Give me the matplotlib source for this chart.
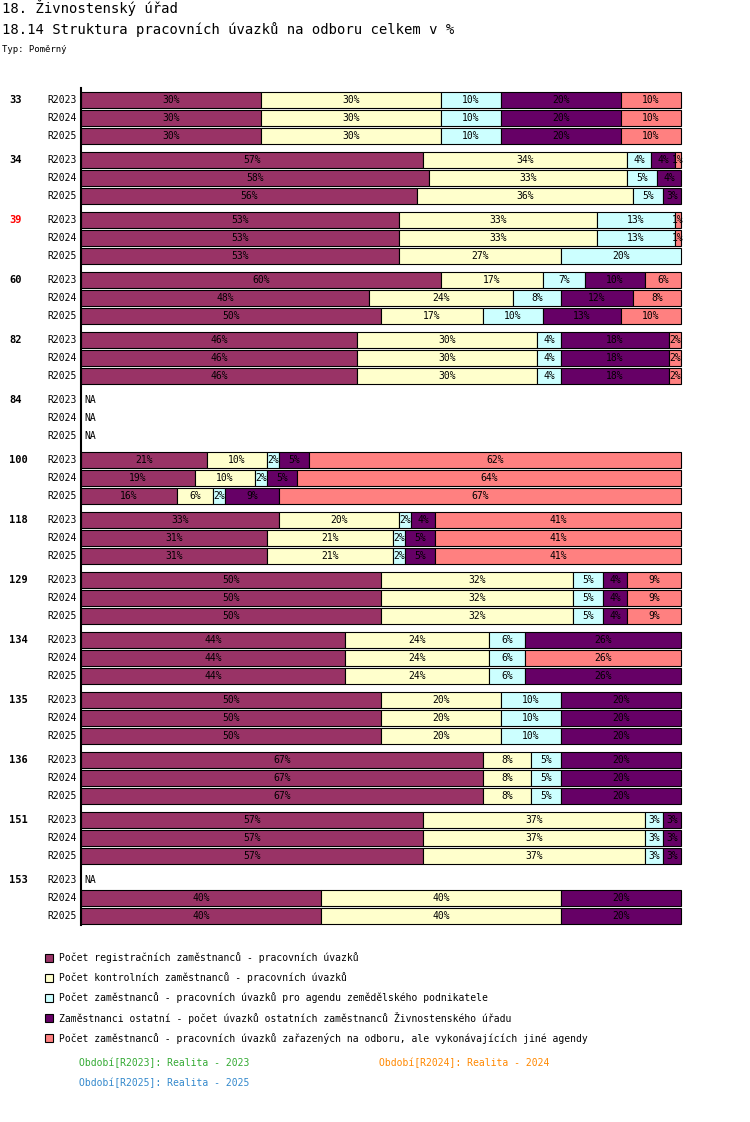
import matplotlib
matplotlib.use('Agg')
import matplotlib.pyplot as plt
import numpy as np

plt.rcParams['font.family'] = ['DejaVu Sans Mono']

groups = ['33', '34', '39', '60', '82', '84', '100', '118', '129', '134', '135', '136', '151', '153']
periods = ['R2023', 'R2024', 'R2025']
# per group, per period: [registrační, kontrolní, zeměd., ostatní, jiné agendy]; None = NA
values = [
    [[30, 30, 10, 20, 10], [30, 30, 10, 20, 10], [30, 30, 10, 20, 10]],
    [[57, 34, 4, 4, 1], [58, 33, 5, 4, 0], [56, 36, 5, 3, 0]],
    [[53, 33, 13, 0, 1], [53, 33, 13, 0, 1], [53, 27, 20, 0, 0]],
    [[60, 17, 7, 10, 6], [48, 24, 8, 12, 8], [50, 17, 10, 13, 10]],
    [[46, 30, 4, 18, 2], [46, 30, 4, 18, 2], [46, 30, 4, 18, 2]],
    [None, None, None],
    [[21, 10, 2, 5, 62], [19, 10, 2, 5, 64], [16, 6, 2, 9, 67]],
    [[33, 20, 2, 4, 41], [31, 21, 2, 5, 41], [31, 21, 2, 5, 41]],
    [[50, 32, 5, 4, 9], [50, 32, 5, 4, 9], [50, 32, 5, 4, 9]],
    [[44, 24, 6, 26, 0], [44, 24, 6, 0, 26], [44, 24, 6, 26, 0]],
    [[50, 20, 10, 20, 0], [50, 20, 10, 20, 0], [50, 20, 10, 20, 0]],
    [[67, 8, 5, 20, 0], [67, 8, 5, 20, 0], [67, 8, 5, 20, 0]],
    [[57, 37, 3, 3, 0], [57, 37, 3, 3, 0], [57, 37, 3, 3, 0]],
    [None, [40, 40, 0, 20, 0], [40, 40, 0, 20, 0]],
]
colors = ['#993366', '#ffffcc', '#ccffff', '#660066', '#ff8080']
series = ['Počet registračních zaměstnanců - pracovních úvazků',
          'Počet kontrolních zaměstnanců - pracovních úvazků',
          'Počet zaměstnanců - pracovních úvazků pro agendu zemědělského podnikatele',
          'Zaměstnanci ostatní - počet úvazků ostatních zaměstnanců Živnostenského úřadu',
          'Počet zaměstnanců - pracovních úvazků zařazených na odboru, ale vykonávajících jiné agendy']

W, H = 750, 1122
fig = plt.figure(figsize=(W / 100, H / 100), dpi=100)
ax = fig.add_axes([0, 0, 1, 1])
ax.set_xlim(0, W)
ax.set_ylim(H, 0)
ax.axis('off')

x0, x1 = 81, 681
fs = 7.5
fig.text(2 / W, 1 - 8 / H, '18. Živnostenský úřad', fontsize=10, va='center')
fig.text(2 / W, 1 - 30 / H, '18.14 Struktura pracovních úvazků na odboru celkem v %', fontsize=10, va='center')
fig.text(2 / W, 1 - 50 / H, 'Typ: Poměrný', fontsize=6.5, va='center')

ax.plot([x0, x0], [88, 925], color='black', lw=1.5)
for gi, g in enumerate(groups):
    yg = 100 + gi * 60
    ax.text(9, yg, g, fontsize=fs, fontweight='bold', va='center',
            color='red' if g == '39' else 'black')
    for pi, p in enumerate(periods):
        y = yg + pi * 18
        ax.text(47, y, p, fontsize=fs - 0.5, va='center')
        v = values[gi][pi]
        if v is None:
            ax.text(x0 + 3, y, 'NA', fontsize=fs - 0.5, va='center')
            continue
        v = np.array(v, float)
        fr = v / v.sum() * (x1 - x0)
        left = x0
        for k in range(5):
            if v[k] <= 0:
                continue
            ax.barh(y, fr[k], left=left, height=16, color=colors[k], edgecolor='black', lw=0.8)
            ax.text(left + fr[k] / 2, y, f'{int(v[k])}%', fontsize=fs - 0.5, ha='center', va='center')
            left += fr[k]

for k, s in enumerate(series):
    y = 958 + 20 * k
    ax.add_patch(plt.Rectangle((45, y - 4), 8, 8, facecolor=colors[k], edgecolor='black', lw=0.8))
    ax.text(59, y, s, fontsize=fs - 0.5, va='center')
ax.text(79, 1063, 'Období[R2023]: Realita - 2023', fontsize=fs - 0.5, va='center', color='#33aa33')
ax.text(379, 1063, 'Období[R2024]: Realita - 2024', fontsize=fs - 0.5, va='center', color='#ff8800')
ax.text(79, 1083, 'Období[R2025]: Realita - 2025', fontsize=fs - 0.5, va='center', color='#3388cc')

fig.savefig('out.png', dpi=100)
